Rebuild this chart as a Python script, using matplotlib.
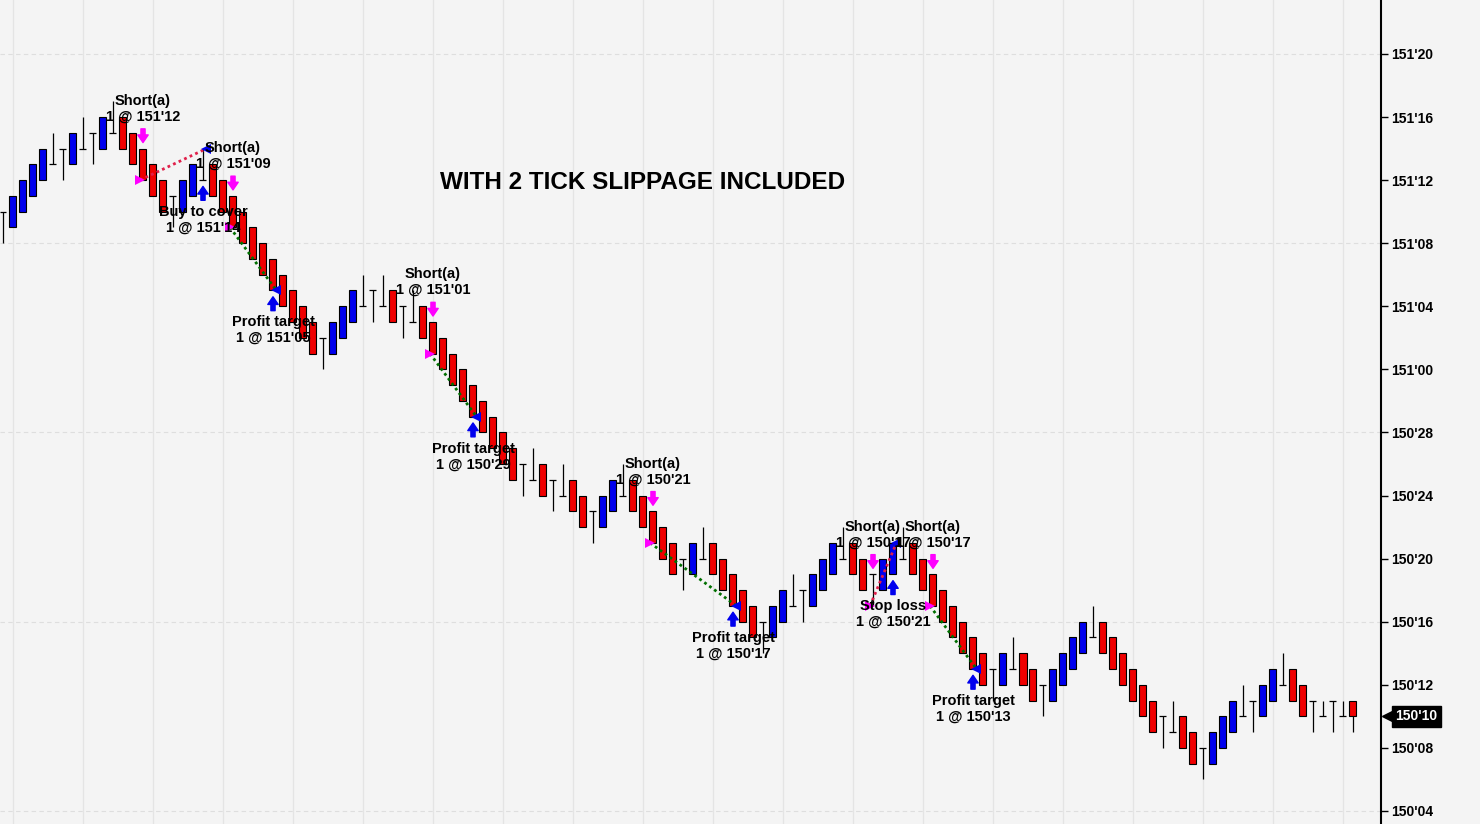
import numpy as np
import matplotlib
matplotlib.use("Agg")
import matplotlib.pyplot as plt
import matplotlib.transforms as mtransforms

plt.rcParams['font.family'] = ['Liberation Sans', 'DejaVu Sans']

# prices in 1/32 ticks above 150'00
opens = [42, 41, 42, 43, 44, 45, 46, 45, 46, 47, 46, 47, 48, 47, 46, 45, 44, 43, 42, 43,
         44, 45, 44, 43, 42, 41, 40, 39, 38, 37, 36, 35, 34, 33, 34, 35, 36, 37, 36, 37,
         36, 35, 36, 35, 34, 33, 32, 31, 30, 29, 28, 27, 26, 25, 26, 25, 24, 25, 24, 23,
         22, 23, 24, 25, 24, 23, 22, 21, 20, 19, 20, 21, 20, 19, 18, 17, 16, 15, 16, 17,
         18, 17, 18, 19, 20, 21, 20, 19, 18, 19, 20, 21, 20, 19, 18, 17, 16, 15, 14, 13,
         12, 13, 14, 13, 12, 11, 12, 13, 14, 15, 16, 15, 14, 13, 12, 11, 10, 9, 10, 9,
         8, 7, 8, 9, 10, 11, 10, 11, 12, 13, 12, 11, 10, 11, 10, 11]
highs = [42, 43, 44, 45, 46, 47, 46, 47, 48, 47, 48, 49, 48, 47, 46, 45, 44, 43, 44, 45,
         46, 45, 44, 43, 42, 41, 40, 39, 38, 37, 36, 35, 34, 35, 36, 37, 38, 37, 38, 37,
         36, 37, 36, 35, 34, 33, 32, 31, 30, 29, 28, 27, 26, 27, 26, 25, 26, 25, 24, 23,
         24, 25, 26, 25, 24, 23, 22, 21, 20, 21, 22, 21, 20, 19, 18, 17, 16, 17, 18, 19,
         18, 19, 20, 21, 22, 21, 20, 19, 20, 21, 22, 21, 20, 19, 18, 17, 16, 15, 14, 13,
         14, 15, 14, 13, 12, 13, 14, 15, 16, 17, 16, 15, 14, 13, 12, 11, 10, 11, 10, 9,
         8, 9, 10, 11, 12, 11, 12, 13, 14, 13, 12, 11, 11, 11, 11, 11]
lows = [40, 41, 42, 43, 44, 45, 44, 45, 46, 45, 46, 47, 46, 45, 44, 43, 42, 41, 42, 43,
        44, 43, 42, 41, 40, 39, 38, 37, 36, 35, 34, 33, 32, 33, 34, 35, 36, 35, 36, 35,
        34, 35, 34, 33, 32, 31, 30, 29, 28, 27, 26, 25, 24, 25, 24, 23, 24, 23, 22, 21,
        22, 23, 24, 23, 22, 21, 20, 19, 18, 19, 20, 19, 18, 17, 16, 15, 14, 15, 16, 17,
        16, 17, 18, 19, 20, 19, 18, 17, 18, 19, 20, 19, 18, 17, 16, 15, 14, 13, 12, 11,
        12, 13, 12, 11, 10, 11, 12, 13, 14, 15, 14, 13, 12, 11, 10, 9, 8, 9, 8, 7,
        6, 7, 8, 9, 10, 9, 10, 11, 12, 11, 10, 9, 10, 9, 10, 9]
closes = [42, 43, 44, 45, 46, 45, 46, 47, 46, 47, 48, 47, 46, 45, 44, 43, 42, 43, 44, 45,
          44, 43, 42, 41, 40, 39, 38, 37, 36, 35, 34, 33, 34, 35, 36, 37, 36, 37, 36, 35,
          36, 35, 34, 33, 32, 31, 30, 29, 28, 27, 26, 25, 26, 25, 24, 25, 24, 23, 22, 23,
          24, 25, 24, 23, 22, 21, 20, 19, 20, 21, 20, 19, 18, 17, 16, 15, 16, 17, 18, 17,
          18, 19, 20, 21, 20, 19, 18, 19, 20, 21, 20, 19, 18, 17, 16, 15, 14, 13, 12, 13,
          14, 13, 12, 11, 12, 13, 14, 15, 16, 15, 14, 13, 12, 11, 10, 9, 10, 9, 8, 7,
          8, 9, 10, 11, 10, 11, 12, 13, 12, 11, 10, 11, 10, 11, 10, 10]

# trades
entry_bars = [14, 23, 43, 65, 87, 93]
entry_prices = [44, 41, 33, 21, 17, 17]
exit_bars = [20, 27, 47, 73, 89, 97]
exit_prices = [46, 37, 29, 17, 21, 13]
exit_names = ["Buy to cover", "Profit target", "Profit target", "Profit target",
              "Stop loss", "Profit target"]

y_ticks = list(range(4, 53, 4))
grid_levels = [4, 16, 28, 40, 52]
title = "WITH 2 TICK SLIPPAGE INCLUDED"


def fmt(t):
    return f"{150 + t // 32}'{t % 32:02d}"


bg = "#f4f4f4"
red = "#f00000"
blue = "#0000ee"

fig = plt.figure(figsize=(14.8, 8.24), dpi=100)
fig.patch.set_facecolor(bg)
ax = fig.add_axes([0, 0, 1381 / 1480, 1])
ax.set_facecolor(bg)
ax.set_xlim(-0.3, 137.8)
ax.set_ylim(3.17, 55.42)

# grid
for gx in range(1, 137, 7):
    ax.axvline(gx, color="#e4e4e4", lw=0.9, zorder=0)
for gy in grid_levels:
    ax.axhline(gy, color="#dedede", lw=0.8, ls=(0, (4, 3)), zorder=0)

# bars
x = np.arange(len(opens))
o = np.array(opens)
c = np.array(closes)
ax.vlines(x, lows, highs, color="black", lw=0.9, zorder=2)
body = c != o
cols = np.where(c > o, blue, red)
ax.bar(x[body], np.abs(c - o)[body], bottom=np.minimum(o, c)[body], width=0.7,
       color=cols[body], edgecolor="black", linewidth=0.8, zorder=3)
doji = ~body
ax.hlines(o[doji], x[doji] - 0.35, x[doji] + 0.35, color="black", lw=0.9, zorder=3)

# trades
txt_kw = dict(ha="center", fontsize=10.5, fontweight="bold", color="black",
              textcoords="offset pixels", zorder=6, linespacing=1.15)
arrow_style = "simple,head_width=0.75,head_length=0.55,tail_width=0.3"
for eb, ep, xb, xp, nm in zip(entry_bars, entry_prices, exit_bars, exit_prices, exit_names):
    win = xp < ep
    ax.plot([eb - 0.3, xb + 0.35], [ep, xp], ls=(0, (1, 1.2)), lw=2,
            color="#007000" if win else "#e0204a", zorder=4)
    ax.plot(eb - 0.3, ep, marker=">", ms=7, color="#ff00ff", mew=0, zorder=5)
    ax.plot(xb + 0.35, xp, marker="<", ms=7, color=blue, mew=0, zorder=5)
    top = highs[eb]
    ax.annotate("", xy=(eb, top + 0.38), xytext=(eb, top + 1.25),
                arrowprops=dict(arrowstyle=arrow_style, color="#ff00ff",
                                shrinkA=0, shrinkB=0, mutation_scale=10),
                zorder=5)
    ax.annotate(f"Short(a)\n1 @ {fmt(ep)}", xy=(eb, top), xytext=(0, 25), va="bottom", **txt_kw)
    low = lows[xb]
    ax.annotate("", xy=(xb, low - 0.4), xytext=(xb, low - 1.28),
                arrowprops=dict(arrowstyle=arrow_style, color=blue,
                                shrinkA=0, shrinkB=0, mutation_scale=10),
                zorder=5)
    ax.annotate(f"{nm}\n1 @ {fmt(xp)}", xy=(xb, low), xytext=(0, -25), va="top", **txt_kw)

ax.text(0.4655, 0.778, title, transform=ax.transAxes, ha="center", va="center",
        fontsize=17.5, fontweight="bold", color="black", zorder=6)

# axes
for s in ["left", "top", "bottom"]:
    ax.spines[s].set_visible(False)
ax.spines["right"].set_color("black")
ax.spines["right"].set_linewidth(1.5)
ax.set_xticks([])
ax.yaxis.tick_right()
ax.set_yticks(y_ticks)
ax.set_yticklabels([fmt(t) for t in y_ticks], fontsize=10, fontweight="bold")
ax.tick_params(axis="y", direction="out", length=5, width=1, pad=2, colors="black")

# last price marker
trans = mtransforms.blended_transform_factory(ax.transAxes, ax.transData)
last = closes[-1]
ax.plot([1.006], [last], marker="<", ms=10, color="black", transform=trans, clip_on=False)
ax.annotate(fmt(last), xy=(1.0, last), xycoords=trans, xytext=(14, 0),
            textcoords="offset pixels", ha="left", va="center", fontsize=10,
            fontweight="bold", color="white", annotation_clip=False,
            bbox=dict(boxstyle="square,pad=0.25", fc="black", ec="black"))

fig.savefig("out.png", dpi=100, facecolor=bg)
